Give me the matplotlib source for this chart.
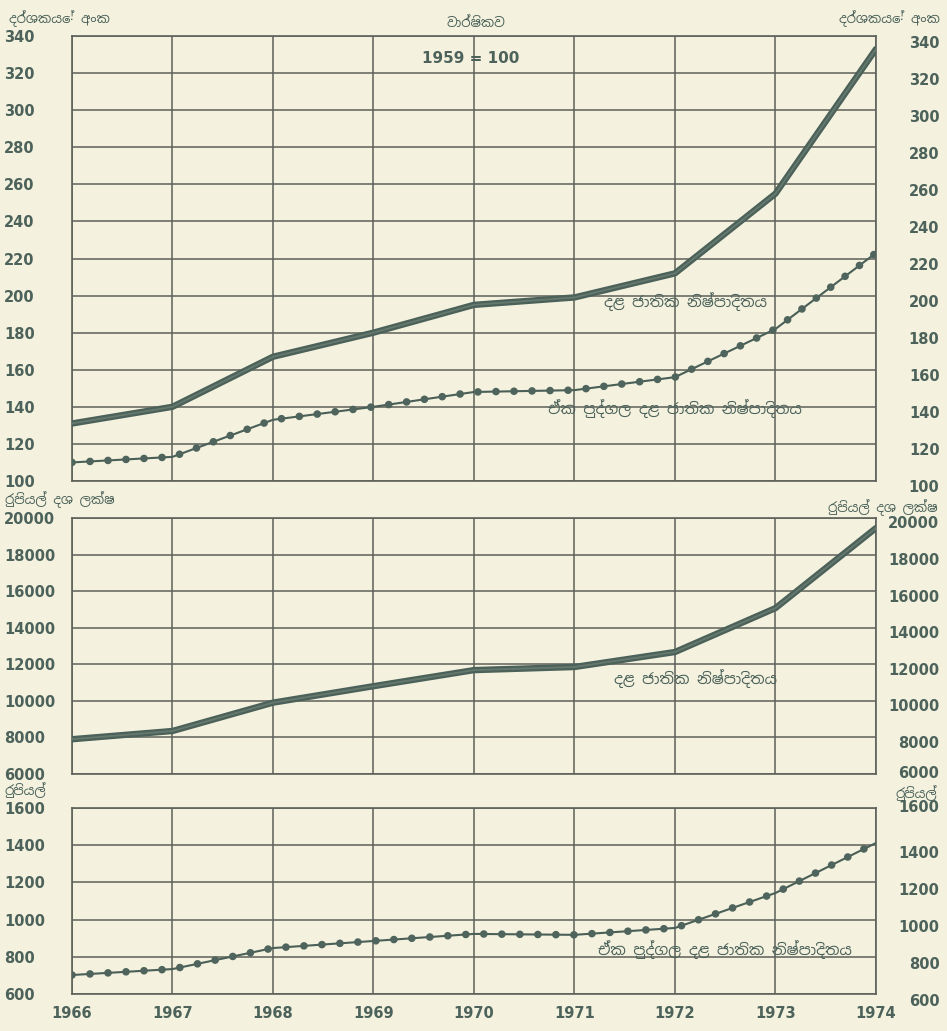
"""
GNP and per-capita GNP, Sri Lanka 1966-1974 (Sinhala labels)
"""
import matplotlib
matplotlib.use('Agg')
import matplotlib.pyplot as plt
import matplotlib.patheffects as pe
import matplotlib.transforms as mtransforms
from matplotlib import font_manager

years = [1966, 1967, 1968, 1969, 1970, 1971, 1972, 1973, 1974]

# index numbers, 1959 = 100
gnp_index = [131, 140, 167, 180, 195, 199, 212, 255, 333]
pc_index = [110, 113, 133, 140, 148, 149, 156, 182, 223]

# rupees million
gnp_rs = [7900, 8350, 9900, 10800, 11680, 11850, 12670, 15070, 19450]

# rupees per head
pc_rs = [702, 734, 847, 885, 923, 918, 955, 1143, 1412]

idx_ticks = list(range(100, 341, 20))
mil_ticks = list(range(6000, 20001, 2000))
rs_ticks = list(range(600, 1601, 200))

bg = '#f4f2de'
ink = '#4c625b'
grid_c = '#5d615a'

# use a Sinhala font if one happens to be there
sin_fams = ['DejaVu Sans']
for f in font_manager.fontManager.ttflist:
    if 'Sinhala' in f.name or 'Iskoola' in f.name:
        sin_fams = [f.name, 'DejaVu Sans']
        break
plt.rcParams['font.family'] = ['DejaVu Sans']

fig = plt.figure(figsize=(9.47, 10.31), dpi=100, facecolor=bg)

left, right = 0.076, 0.925
ax1 = fig.add_axes([left, 0.5335, right - left, 0.965 - 0.5335])
ax2 = fig.add_axes([left, 0.2493, right - left, 0.4976 - 0.2493])
ax3 = fig.add_axes([left, 0.0359, right - left, 0.2163 - 0.0359])

thick = dict(color='#66796f', lw=1.3, solid_capstyle='round',
             path_effects=[pe.Stroke(linewidth=4.6, foreground='#4b6159'),
                           pe.Normal()])
thin = dict(color='#4a5f58', lw=1.5)
dots = dict(color='#4f645c', lw=5.5, linestyle=(0, (0.01, 2.35)),
            dash_capstyle='round')

num = dict(color=ink, fontsize=10.5, fontweight='bold', family='DejaVu Sans')


def setup(ax, ticks, shifts):
    ax.set_facecolor(bg)
    ax.set_xlim(1966, 1974)
    ax.set_ylim(ticks[0], ticks[-1])
    ax.set_xticks(years)
    ax.set_yticks(ticks)
    ax.grid(True, color=grid_c, lw=1.1)
    ax.tick_params(length=0)
    for s in ax.spines.values():
        s.set_color(grid_c)
        s.set_linewidth(1.2)
    ax.set_yticklabels([str(t) for t in ticks], **num)
    ax.tick_params(axis='y', pad=49)
    for t in ax.get_yticklabels():
        t.set_ha('left')
    # right side labels, a little lower than the grid lines
    tr = mtransforms.blended_transform_factory(ax.transAxes, ax.transData)
    for t, dy in zip(ticks, shifts):
        off = mtransforms.offset_copy(tr, fig=fig, x=0, y=-dy, units='dots')
        ax.text(1.079, t, str(t), transform=off, ha='right', va='center',
                **num)


setup(ax1, idx_ticks, [7] * len(idx_ticks))
setup(ax2, mil_ticks, [0] + [6] * (len(mil_ticks) - 1))
setup(ax3, rs_ticks, [8] * (len(rs_ticks) - 1) + [0])
ax1.set_xticklabels([])
ax2.set_xticklabels([])
ax3.set_xticklabels([str(y) for y in years], **num)
ax3.tick_params(axis='x', pad=9)

ax1.plot(years, gnp_index, **thick, zorder=5)
ax1.plot(years, pc_index, **thin, zorder=5)
ax1.plot(years, pc_index, **dots, zorder=6)
ax2.plot(years, gnp_rs, **thick, zorder=5)
ax3.plot(years, pc_rs, **thin, zorder=5)
ax3.plot(years, pc_rs, **dots, zorder=6)

unit = dict(color=ink, fontsize=9.5, fontweight='bold', family=sin_fams)
lab = dict(color=ink, fontsize=11, fontweight='bold', family=sin_fams)
fig.text(0.009, 0.982, 'දර්ශකයේ අංක', ha='left', va='center', **unit)
fig.text(0.993, 0.982, 'දර්ශකයේ අංක', ha='right', va='center', **unit)
fig.text(0.503, 0.971, 'වාර්ෂිකව', ha='center', va='bottom', **unit)
ax1.text(1969.97, 328, '1959 = 100', ha='center', va='center',
         color=ink, fontsize=11, fontweight='bold')
ax1.text(1972.1, 197, 'දළ ජාතික නිෂ්පාදිතය', ha='center', va='center',
         **lab)
ax1.text(1972.0, 139, 'ඒක පුද්ගල දළ ජාතික නිෂ්පාදිතය', ha='center',
         va='center', **lab)
fig.text(0.005, 0.515, 'රුපියල් දශ ලක්ෂ', ha='left', va='center', **unit)
fig.text(0.99, 0.508, 'රුපියල් දශ ලක්ෂ', ha='right', va='center', **unit)
ax2.text(1972.2, 11200, 'දළ ජාතික නිෂ්පාදිතය', ha='center', va='center',
         **lab)
fig.text(0.005, 0.234, 'රුපියල්', ha='left', va='center', **unit)
fig.text(0.99, 0.231, 'රුපියල්', ha='right', va='center', **unit)
ax3.text(1972.5, 838, 'ඒක පුද්ගල දළ ජාතික නිෂ්පාදිතය', ha='center',
         va='center', **lab)

plt.savefig('out.png', dpi=100, facecolor=bg)
